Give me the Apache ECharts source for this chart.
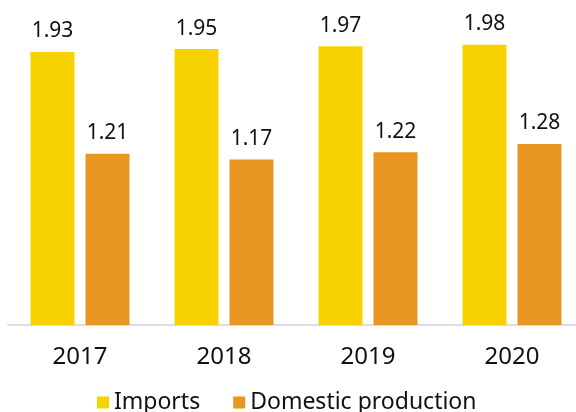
<!DOCTYPE html>
<html>
<head>
<meta charset="utf-8">
<script src="https://cdn.jsdelivr.net/npm/echarts@6/dist/echarts.min.js"></script>
<style>
  html, body { margin: 0; padding: 0; background: #fff; }
  #chart { width: 576px; height: 412px; }
</style>
</head>
<body>
<div id="chart"></div>
<script>
// Yearly totals: imports vs domestic production
const years = ['2017', '2018', '2019', '2020'];
const imports = [1.93, 1.95, 1.97, 1.98];
const domestic = [1.21, 1.17, 1.22, 1.28];

const FONT = '"Noto Sans", "Open Sans", sans-serif';

const chart = echarts.init(document.getElementById('chart'), null, { renderer: 'canvas' });

const labelStyle = {
  show: true,
  position: 'top',
  distance: 10,
  color: '#111',
  fontFamily: FONT,
  fontSize: 21,
  formatter: p => p.value.toFixed(2)
};

chart.setOption({
  animation: false,
  backgroundColor: '#fff',
  grid: {
    left: 8, right: -8, top: 42, bottom: 87,
    containLabel: false,
    outerBoundsMode: 'none'
  },
  xAxis: {
    type: 'category',
    data: years,
    axisLine: { show: true, lineStyle: { color: '#dcdde5', width: 2 } },
    axisTick: { show: false },
    axisLabel: { color: '#111', fontFamily: FONT, fontSize: 24, margin: 20 }
  },
  yAxis: {
    type: 'value',
    min: 0,
    max: 2,
    show: false,
    splitLine: { show: false }
  },
  legend: {
    left: 92,
    top: 386,
    itemWidth: 12,
    itemHeight: 12,
    itemGap: 33,
    icon: 'rect',
    textStyle: { color: '#111', fontFamily: FONT, fontSize: 23 },
    data: ['Imports', 'Domestic production']
  },
  series: [
    {
      name: 'Imports',
      type: 'bar',
      data: imports,
      barWidth: 44,
      barGap: '25%',
      itemStyle: { color: '#f6d300' },
      label: labelStyle
    },
    {
      name: 'Domestic production',
      type: 'bar',
      data: domestic,
      barWidth: 44,
      itemStyle: { color: '#e8961f' },
      label: labelStyle
    }
  ]
});
</script>
</body>
</html>
